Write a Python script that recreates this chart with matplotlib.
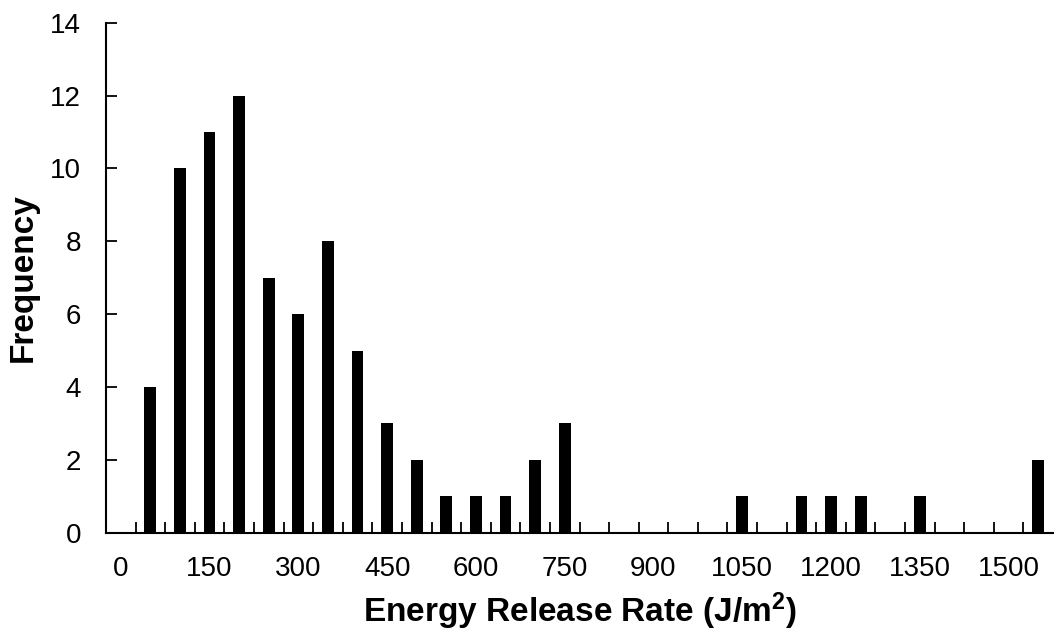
import matplotlib
matplotlib.use("Agg")
import matplotlib.pyplot as plt
import numpy as np

plt.rcParams['font.family'] = ['Liberation Sans', 'DejaVu Sans']
plt.rcParams['mathtext.fontset'] = 'custom'
plt.rcParams['mathtext.rm'] = 'Liberation Sans'
plt.rcParams['mathtext.bf'] = 'Liberation Sans:bold'

# histogram bins (J/m^2) and counts
bins = list(range(0, 1600, 50))
counts = [0, 4, 10, 11, 12, 7, 6, 8, 5, 3, 2, 1, 1, 1, 2, 3,
          0, 0, 0, 0, 0, 1, 0, 1, 1, 1, 0, 1, 0, 0, 0, 2]
label_every = 3

fig = plt.figure(figsize=(10.54, 6.32), dpi=100)
ax = fig.add_axes([106 / 1054, (632 - 532.7) / 632, 947 / 1054, 510 / 632])

x = np.arange(len(bins))
ax.bar(x, counts, width=0.4, color='black')

ax.set_xlim(-0.5, len(bins) - 0.5)
ax.set_ylim(0, 14)
ax.set_yticks(range(0, 15, 2))

# tick marks between categories, labels on every third category
ax.set_xticks(x[1:] - 0.5)
ax.set_xticklabels([])
ax.set_xticks(x[::label_every], minor=True)
ax.set_xticklabels([str(b) for b in bins[::label_every]], minor=True)
ax.tick_params(axis='x', which='major', direction='in', length=8, width=1.3)
ax.tick_params(axis='x', which='minor', length=0, pad=17, labelsize=20)
ax.tick_params(axis='y', direction='in', length=8, width=1.3, pad=18, labelsize=20)

for s in ['top', 'right']:
    ax.spines[s].set_visible(False)
for s in ['left', 'bottom']:
    ax.spines[s].set_linewidth(1.5)

ax.set_xlabel(r'Energy Release Rate (J/m$\mathbf{^{2}}$)', fontsize=24,
              fontweight='bold', labelpad=6)
ax.set_ylabel('Frequency', fontsize=24, fontweight='bold', labelpad=8)

fig.savefig('out.png', dpi=100)
